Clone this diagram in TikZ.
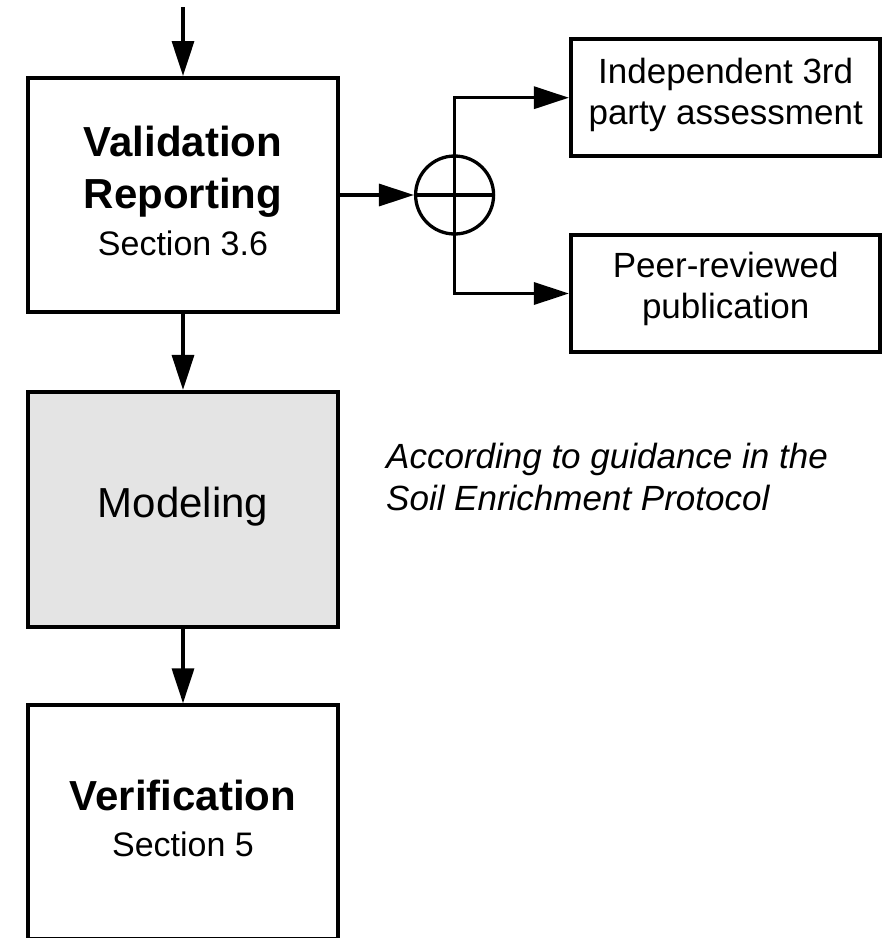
\documentclass[tikz,border=0pt]{standalone}
\usepackage{fontspec}
\setmainfont{Liberation Sans}
\usetikzlibrary{arrows.meta}
\definecolor{modfill}{RGB}{228,228,228}
\begin{document}
\begin{tikzpicture}[x=1pt,y=-1pt,
  box/.style={draw=black,line width=4pt,rectangle,inner sep=0pt},
  conn/.style={line width=3.3pt,-{Triangle[length=35pt,width=22pt]}},
  plain/.style={line width=3.3pt},
  txt/.style={anchor=base,inner sep=0pt},
  bigbold/.style={font=\fontsize{42}{48}\selectfont\bfseries},
  bigreg/.style={font=\fontsize{42}{48}\selectfont},
  secfont/.style={font=\fontsize{34}{40}\selectfont},
  sidefont/.style={font=\fontsize{35}{41}\selectfont},
  notefont/.style={font=\fontsize{35}{41}\selectfont\itshape},
]
\clip (0,0) rectangle (889,938);
\fill[white] (0,0) rectangle (889,938);

% boxes
\node[box,minimum width=310pt,minimum height=234pt] (val) at (183,195) {};
\node[box,fill=modfill,minimum width=310pt,minimum height=234.7pt] (mod) at (183,509.3) {};
\node[box,minimum width=310pt,minimum height=234pt] (ver) at (183,822.3) {};
\node[box,minimum width=309.5pt,minimum height=116.7pt] (ind) at (725.7,97.7) {};
\node[box,minimum width=309.5pt,minimum height=116.4pt] (peer) at (725.7,293.5) {};
\node[draw,circle,line width=3.3pt,minimum size=78pt,inner sep=0pt] (sum) at (454.6,195) {};

% texts
\node[txt,bigbold] (vt1) at (183,156.7) {Validation};
\node[txt,bigbold] (vt2) at (183,208) {Reporting};
\node[txt,secfont] (vt3) at (183,255) {Section 3.6};
\node[txt,bigreg] (mt) at (183,517.3) {Modeling};
\node[txt,bigbold] (et1) at (183,810) {Verification};
\node[txt,secfont] (et2) at (183,856) {Section 5};
\node[txt,sidefont] (it1) at (725.7,83.3) {Independent 3rd};
\node[txt,sidefont] (it2) at (725.7,124) {party assessment};
\node[txt,sidefont] (pt1) at (725.7,277) {Peer-reviewed};
\node[txt,sidefont] (pt2) at (725.7,318) {publication};
\node[anchor=base west,inner sep=0pt,notefont] (n1) at (386,468.3) {According to guidance in the};
\node[anchor=base west,inner sep=0pt,notefont] (n2) at (386,510) {Soil Enrichment Protocol};

% connectors
\coordinate (topin) at (183,7);
\draw[conn] (topin) -- (val.north);
\draw[conn] (val.south) -- (mod.north);
\draw[conn] (mod.south) -- (ver.north);
\draw[conn] (val.east) -- (sum.west);
\draw[plain] (sum.west) -- (sum.east);
\draw[conn] (sum.center) |- (ind.west);
\draw[conn] (sum.center) |- (peer.west);
\end{tikzpicture}
\end{document}
